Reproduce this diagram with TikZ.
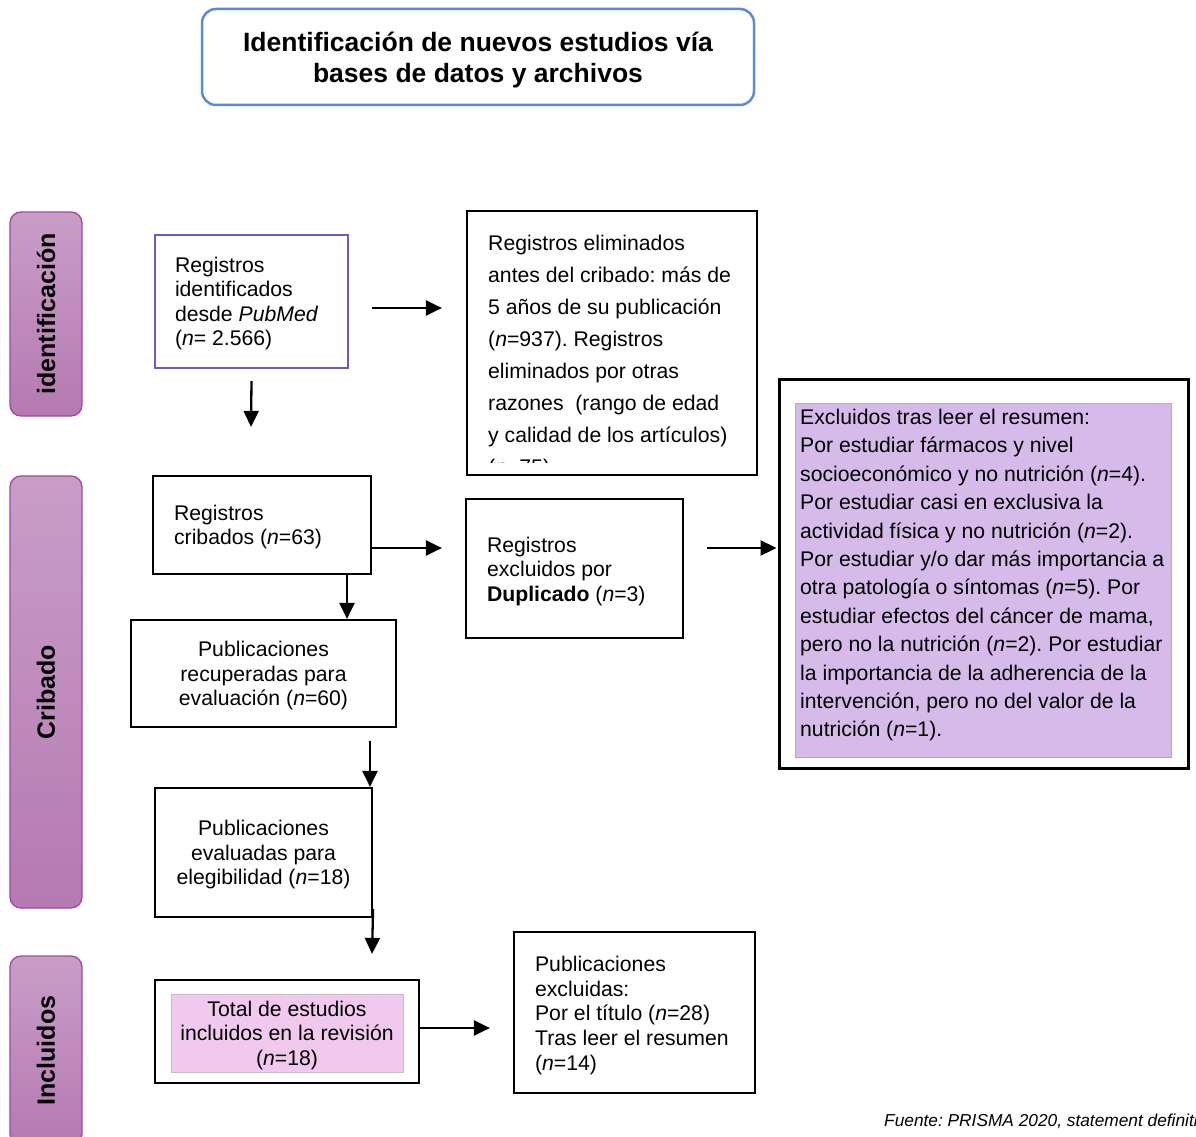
\documentclass[tikz,border=0pt]{standalone}
\usepackage{fontspec}
\setmainfont{Liberation Sans}
\usetikzlibrary{arrows.meta,calc}
\definecolor{titleblue}{HTML}{5B8AD8}
\definecolor{boxApurple}{HTML}{6C5BC4}
\definecolor{sidetop}{HTML}{C99DC8}
\definecolor{sidebot}{HTML}{B57AB1}
\definecolor{sideborder}{HTML}{A247A2}
\definecolor{exclpurple}{HTML}{D6BAEA}
\definecolor{exclborder}{HTML}{B9A8C4}
\definecolor{pinkfill}{HTML}{F1C9EE}
\definecolor{pinkborder}{HTML}{CDB8CB}
\frenchspacing
\begin{document}
\begin{tikzpicture}[x=1pt,y=-1pt,
  boxn/.style={draw=black, line width=2.2pt, inner sep=0pt},
  body/.style={font=\fontsize{21.2}{24.5}\selectfont, inner sep=0pt},
  arr/.style={line width=2.3pt, -{Triangle[length=16pt,width=15pt]}},
  sidebar/.style={draw=sideborder, line width=1.3pt, rounded corners=11pt, inner sep=0pt,
    font=\bfseries\fontsize{25}{30}\selectfont, top color=sidetop, bottom color=sidebot, rotate=90}]
\useasboundingbox (0,0) rectangle (1196,1137);
\clip (0,0) rectangle (1196,1137);

% title
\node[draw=titleblue, line width=2.5pt, rounded corners=14pt, minimum width=552pt, minimum height=96pt,
  align=center, font=\bfseries\fontsize{26.5}{31}\selectfont, inner sep=0pt] (title) at (478,57)
  {\rule{0pt}{25pt}Identificación de nuevos estudios vía\\bases de datos y archivos};

% side bars
\node[sidebar, minimum width=204pt, minimum height=72pt] (s1) at (46,314) {identificación};
\node[sidebar, minimum width=432pt, minimum height=72pt] (s2) at (46,692) {Cribado};
\node[sidebar, minimum width=189pt, minimum height=72pt] (s3) at (46,1050.5) {Incluidos};

% A
\node[boxn, draw=boxApurple, line width=2.4pt, minimum width=193pt, minimum height=133pt] (A) at (251.5,301.5) {};
\node[body, anchor=west, align=left] (Atx) at ([xshift=21pt,yshift=-2pt]A.west)
  {Registros\\identificados\\desde \textit{PubMed}\\(\textit{n}= 2.566)};

% B
\node[boxn, minimum width=290pt, minimum height=264pt] (B) at (612,343) {};
\begin{scope}
\clip (467,211) rectangle (757,462);
\node[anchor=north west, align=left, font=\fontsize{21.2}{32}\selectfont, inner sep=0pt] (Btx) at (488,235)
  {Registros eliminados\\antes del cribado: más de\\5 años de su publicación\\(\textit{n}=937). Registros\\eliminados por otras\\razones\ \ (rango de edad\\y calidad de los artículos)\\(\textit{n}=75)};
\end{scope}

% C
\node[boxn, minimum width=218pt, minimum height=98pt] (C) at (262,525) {};
\node[body, anchor=west, align=left] (Ctx) at ([xshift=22pt,yshift=-2pt]C.west)
  {Registros\\cribados (\textit{n}=63)};

% D
\node[boxn, minimum width=217pt, minimum height=139pt] (D) at (574.5,568.5) {};
\node[body, anchor=west, align=left] (Dtx) at ([xshift=22pt,yshift=-3pt]D.west)
  {Registros\\excluidos por\\\textbf{Duplicado} (\textit{n}=3)};

% E
\node[boxn, line width=3pt, minimum width=409pt, minimum height=389pt] (E) at (983.5,573.5) {};
\node[draw=exclborder, line width=0.8pt, fill=exclpurple, inner sep=0pt, minimum width=376pt, minimum height=354pt] (E2) at (983,580) {};
\node[anchor=north west, align=left, font=\fontsize{21.2}{28.4}\selectfont, inner sep=0pt] (Etx) at (800,409)
  {Excluidos tras leer el resumen:\\Por estudiar fármacos y nivel\\socioeconómico y no nutrición (\textit{n}=4).\\Por estudiar casi en exclusiva la\\actividad física y no nutrición (\textit{n}=2).\\Por estudiar y/o dar más importancia a\\otra patología o síntomas (\textit{n}=5). Por\\estudiar efectos del cáncer de mama,\\pero no la nutrición (\textit{n}=2). Por estudiar\\la importancia de la adherencia de la\\intervención, pero no del valor de la\\nutrición (\textit{n}=1).};

% F
\node[boxn, body, minimum width=265pt, minimum height=107pt, align=center] (F) at (263.5,673.5)
  {\rule{0pt}{19.5pt}Publicaciones\\recuperadas para\\evaluación (\textit{n}=60)};

% G
\node[boxn, body, minimum width=217pt, minimum height=129pt, align=center] (G) at (263.5,852.5)
  {\rule{0pt}{20pt}Publicaciones\\evaluadas para\\elegibilidad (\textit{n}=18)};

% H
\node[boxn, minimum width=264pt, minimum height=103pt] (H) at (287,1031.5) {};
\node[draw=pinkborder, line width=0.8pt, fill=pinkfill, body, minimum width=232pt, minimum height=78pt, align=center] (H2) at (287,1033)
  {\rule{0pt}{19.5pt}Total de estudios\\incluidos en la revisión\\(\textit{n}=18)};

% I
\node[boxn, minimum width=241pt, minimum height=161pt] (I) at (634.5,1012.5) {};
\node[body, anchor=west, align=left] (Itx) at ([xshift=22pt,yshift=-3pt]I.west)
  {Publicaciones\\excluidas:\\Por el título (\textit{n}=28)\\Tras leer el resumen\\(\textit{n}=14)};

% footnote
\node[anchor=base west, inner sep=0pt, font=\fontsize{17.3}{20}\selectfont\itshape] (src) at (884,1126)
  {Fuente: PRISMA 2020, statement definitivo};

% arrows
\draw[arr] ([shift={(23pt,-6.5pt)}]A.east) -- ([shift={(-24pt,35pt)}]B.west);
\draw[arr] ([shift={(0pt,-12pt)}]A.south) -- ([shift={(-11pt,48pt)}]C.north);
\draw[arr] ([shift={(0pt,-23pt)}]C.east) -- ([shift={(-23pt,20.5pt)}]D.west);
\draw[arr] ([shift={(23pt,20.5pt)}]D.east) -- ([shift={(-1pt,25.5pt)}]E.west);
\draw[arr] ([shift={(85pt,0pt)}]C.south) -- ([shift={(83.5pt,0pt)}]F.north);
\draw[arr] ([shift={(106.5pt,-13pt)}]F.south) -- ([shift={(106.5pt,0pt)}]G.north);
\draw[arr] ([shift={(0pt,9pt)}]G.south east) -- ([shift={(85pt,25pt)}]H.north);
\draw[arr] ([shift={(0pt,3.5pt)}]H.east) -- ([shift={(-23pt,-15.5pt)}]I.west);
\end{tikzpicture}
\end{document}
